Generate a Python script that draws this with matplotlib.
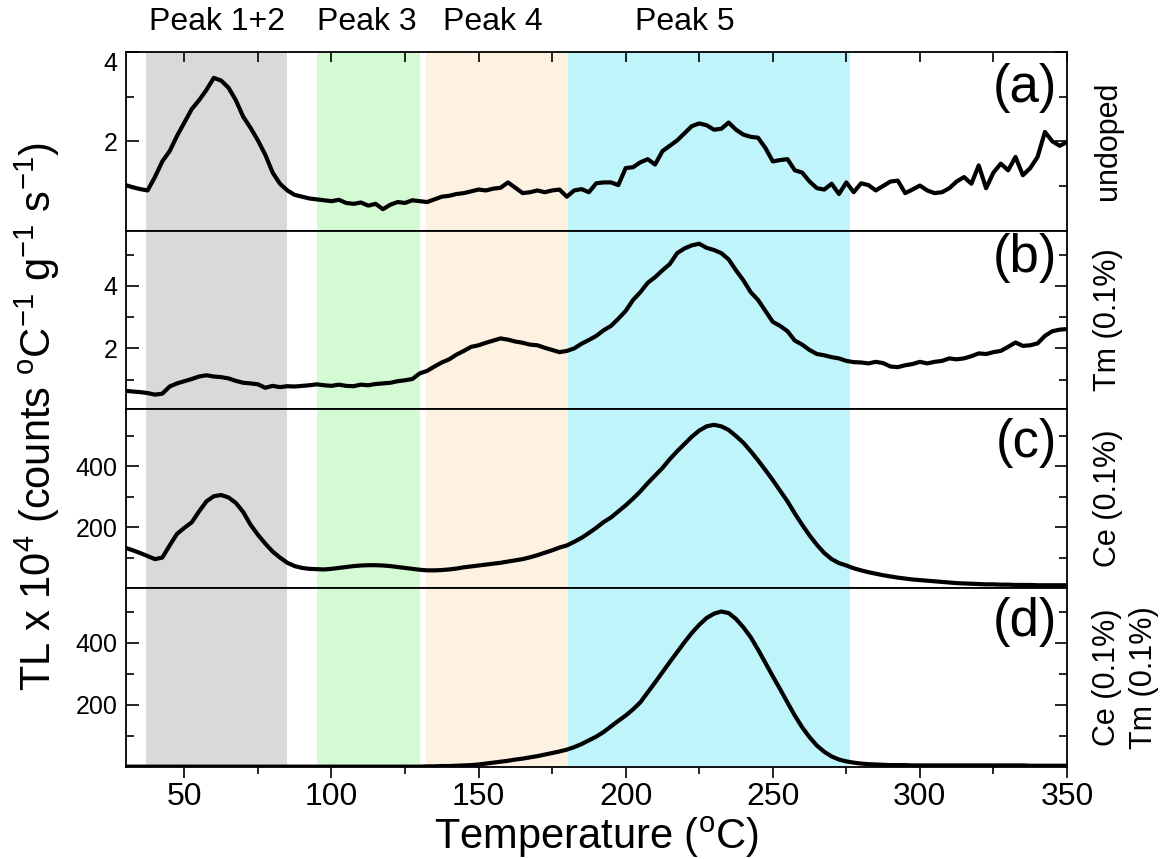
import numpy as np
import matplotlib.pyplot as plt
import matplotlib.transforms as mtransforms

plt.rcParams['font.family'] = ['Liberation Sans', 'DejaVu Sans']
plt.rcParams['mathtext.default'] = 'regular'

# temperature grid (deg C), one reading every 2.5 degrees
temperature = np.arange(30, 350.1, 2.5)

# TL x 1e4 for each sample
undoped = [1.02, 0.97, 0.93, 0.90, 1.20, 1.55, 1.78, 2.12, 2.42, 2.72, 2.92, 3.15,
           3.42, 3.36, 3.20, 2.92, 2.55, 2.30, 2.02, 1.70, 1.30, 1.05, 0.90, 0.80,
           0.76, 0.72, 0.70, 0.68, 0.66, 0.69, 0.62, 0.60, 0.63, 0.56, 0.60, 0.48,
           0.58, 0.64, 0.62, 0.68, 0.66, 0.64, 0.70, 0.76, 0.78, 0.82, 0.84, 0.88,
           0.92, 0.90, 0.94, 0.96, 1.08, 0.96, 0.84, 0.86, 0.90, 0.86, 0.90, 0.92,
           0.76, 0.90, 0.93, 0.86, 1.06, 1.08, 1.08, 1.02, 1.40, 1.42, 1.53, 1.60,
           1.48, 1.78, 1.90, 2.02, 2.18, 2.34, 2.40, 2.36, 2.26, 2.28, 2.42, 2.26,
           2.15, 2.10, 2.08, 1.85, 1.55, 1.58, 1.60, 1.35, 1.30, 1.10, 0.95, 0.92,
           1.05, 0.82, 1.08, 0.86, 1.06, 1.02, 0.90, 1.00, 1.10, 1.12, 0.84, 0.92,
           1.01, 0.90, 0.84, 0.86, 0.95, 1.10, 1.20, 1.05, 1.46, 0.95, 1.30, 1.50,
           1.35, 1.65, 1.24, 1.40, 1.65, 2.21, 2.00, 1.90, 1.98]

tm = [0.64, 0.62, 0.60, 0.57, 0.52, 0.55, 0.78, 0.88, 0.95, 1.02, 1.10, 1.14,
      1.10, 1.08, 1.04, 0.96, 0.90, 0.88, 0.85, 0.74, 0.80, 0.76, 0.79, 0.78,
      0.80, 0.82, 0.85, 0.82, 0.80, 0.84, 0.80, 0.79, 0.84, 0.82, 0.86, 0.88,
      0.90, 0.95, 0.98, 1.02, 1.20, 1.28, 1.42, 1.55, 1.65, 1.80, 1.92, 2.05,
      2.10, 2.18, 2.25, 2.32, 2.28, 2.22, 2.18, 2.12, 2.10, 2.02, 1.95, 1.88,
      1.92, 2.00, 2.15, 2.27, 2.40, 2.58, 2.72, 2.95, 3.20, 3.55, 3.80, 4.10,
      4.28, 4.50, 4.70, 5.05, 5.20, 5.30, 5.35, 5.22, 5.15, 5.05, 4.85, 4.50,
      4.18, 3.80, 3.55, 3.20, 2.85, 2.72, 2.55, 2.25, 2.12, 1.95, 1.82, 1.78,
      1.72, 1.68, 1.60, 1.56, 1.55, 1.52, 1.57, 1.53, 1.42, 1.40, 1.46, 1.50,
      1.57, 1.52, 1.57, 1.60, 1.68, 1.65, 1.68, 1.75, 1.84, 1.82, 1.88, 1.92,
      2.05, 2.19, 2.08, 2.10, 2.16, 2.40, 2.55, 2.60, 2.62]

ce = [132, 124, 115, 105, 95, 100, 140, 178, 198, 216, 252, 285,
      302, 306, 298, 280, 250, 208, 175, 146, 120, 100, 83, 72,
      66, 63, 62, 61, 63, 66, 69, 72, 74, 75, 75, 74,
      72, 69, 66, 63, 60, 58, 58, 59, 61, 64, 68, 71,
      74, 77, 80, 83, 87, 91, 95, 101, 108, 116, 124, 133,
      140, 152, 165, 181, 198, 217, 232, 252, 272, 294, 318, 345,
      370, 395, 424, 450, 474, 498, 518, 532, 537, 532, 520, 500,
      478, 450, 420, 388, 355, 320, 285, 245, 208, 173, 142, 115,
      95, 82, 74, 65, 58, 52, 47, 42, 38, 34, 31, 28,
      26, 24, 22, 20, 18, 16, 15, 14, 13, 12, 12, 11,
      11, 10, 10, 10, 9, 9, 9, 9, 9]

ce_tm = [0, 0, 0, 0, 0, 0, 0, 0, 0, 0, 0, 0,
         0, 0, 0, 0, 0, 0, 0, 0, 0, 0, 0, 0,
         0, 0, 0, 0, 0, 0, 0, 0, 0, 0, 0, 0,
         0, 0, 0, 0, 0, 1, 1, 2, 2, 3, 4, 5,
         7, 10, 13, 16, 19, 23, 26, 30, 34, 39, 44, 49,
         55, 63, 73, 85, 97, 112, 130, 148, 165, 185, 208, 240,
         272, 305, 338, 370, 402, 432, 458, 480, 494, 501, 496, 477,
         450, 418, 378, 335, 292, 250, 207, 165, 127, 95, 68, 48,
         33, 23, 17, 13, 10, 8, 7, 6, 5, 5, 5, 4,
         4, 4, 4, 4, 4, 4, 4, 4, 4, 4, 4, 4,
         4, 4, 4, 3, 3, 3, 3, 3, 3]

peak_names = ['Peak 1+2', 'Peak 3', 'Peak 4', 'Peak 5']
peak_ranges = [(37, 85), (95, 130), (132, 180.4), (180.4, 276.4)]
peak_label_x = [61, 112, 155, 220]
peak_colors = ['#d9d9d9', '#d3fad3', '#fdf1e2', '#bef4fa']

series = [undoped, tm, ce, ce_tm]
panel_tags = ['(a)', '(b)', '(c)', '(d)']
sample_names = ['undoped', 'Tm (0.1%)', 'Ce (0.1%)', 'Ce (0.1%)\nTm (0.1%)']
ylims = [(0, 4), (0.05, 5.77), (0, 588), (0, 577)]
major_ticks = [[2, 4], [2, 4], [200, 400], [200, 400]]
minor_ticks = [[1, 3], [1, 3, 5], [100, 300, 500], [100, 300, 500]]
tag_y = [0.94, 0.985, 0.95, 0.95]

fig, axes = plt.subplots(4, 1, sharex=True, figsize=(11.72, 8.59), dpi=100)
fig.subplots_adjust(left=0.1071, right=0.9104, top=0.9395, bottom=0.1075, hspace=0)

for i, ax in enumerate(axes):
    for (x0, x1), c in zip(peak_ranges, peak_colors):
        ax.axvspan(x0, x1, color=c, lw=0, zorder=0)
    ax.plot(temperature, series[i], color='black', lw=3.0, zorder=3)
    ax.set_ylim(*ylims[i])
    ax.set_yticks(major_ticks[i])
    ax.set_yticks(minor_ticks[i], minor=True)
    ax.tick_params(axis='y', which='both', direction='in', left=True, right=True,
                   labelsize=18, pad=6, width=1.2)
    ax.tick_params(axis='y', which='major', length=9)
    ax.tick_params(axis='y', which='minor', length=5.5)
    ax.tick_params(axis='x', which='both', bottom=False, top=False, labelbottom=False)
    for sp in ax.spines.values():
        sp.set_linewidth(1.3)
        sp.set_zorder(4)
    ax.text(0.99, tag_y[i], panel_tags[i], transform=ax.transAxes,
            ha='right', va='top', fontsize=38)
    # sample name, one rotated column per line
    lines = sample_names[i].split('\n')
    for k, line in enumerate(lines):
        x = 1.044 + 0.040 * (k - (len(lines) - 1) / 2) + 0.018 * (len(lines) - 1)
        ax.text(x, 0.5, line, transform=ax.transAxes, rotation=90,
                ha='center', va='center', fontsize=22)

axes[0].set_xlim(30, 350)
axes[0].set_xticks(np.arange(50, 351, 50))
axes[0].set_xticks(np.arange(50, 351, 25), minor=True)

# top ticks only on the first panel, bottom ticks only on the last
axes[0].tick_params(axis='x', which='both', top=True, direction='in', length=7, width=1.2)
axes[3].tick_params(axis='x', which='both', bottom=True, labelbottom=True,
                    direction='out', width=1.2, labelsize=23, pad=3)
axes[3].tick_params(axis='x', which='major', length=8)
axes[3].tick_params(axis='x', which='minor', length=5)

blend = mtransforms.blended_transform_factory(axes[0].transData, axes[0].transAxes)
for name, x in zip(peak_names, peak_label_x):
    axes[0].text(x, 1.165, name, transform=blend, ha='center', va='center', fontsize=23)

axes[3].set_xlabel('Temperature ($^o$C)', fontsize=30, labelpad=2)
fig.text(0.032, 0.515, 'TL x 10$^4$ (counts $^o$C$^{-1}$ g$^{-1}$ s$^{-1}$)',
         rotation=90, ha='center', va='center', fontsize=30)

# keep the top "4" label inside the first panel
axes[0].yaxis.get_major_ticks()[1].label1.set_verticalalignment('top')

fig.savefig('out.png', dpi=100)
